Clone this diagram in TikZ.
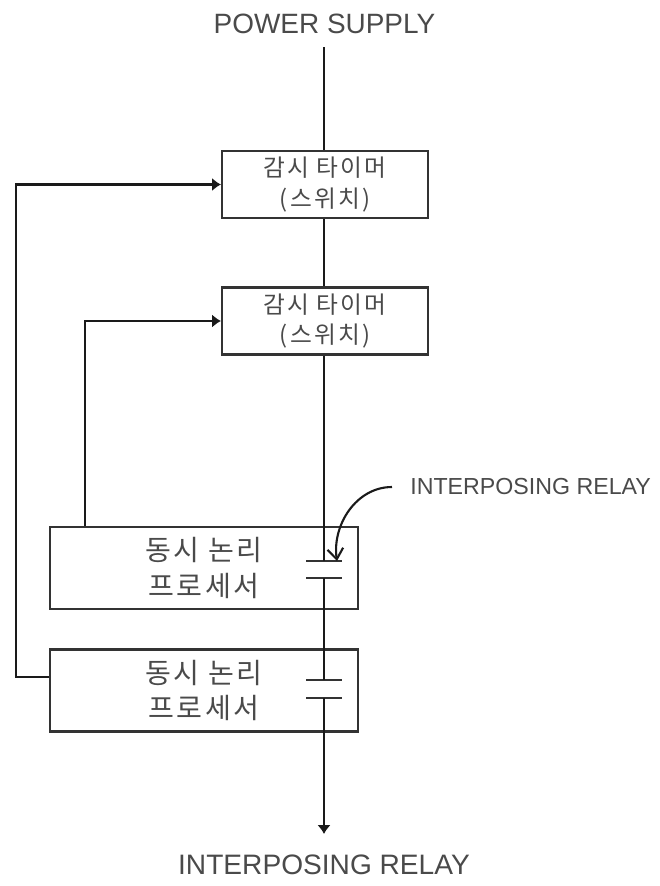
\documentclass[tikz,border=0pt]{standalone}
\usepackage{xcolor}
\usepackage{fontspec}
\setmainfont{Liberation Sans}
\newfontfamily\krfont[LetterSpace=9]{Noto Sans CJK KR}
\usetikzlibrary{arrows.meta, positioning, calc}
\definecolor{wireblack}{HTML}{1A1A1A}
\definecolor{boxgray}{HTML}{333333}
\definecolor{labelgray}{HTML}{4A4A4A}
\tikzset{
    wire/.style={line width=1.2pt, wireblack},
    feed/.style={wire, -{Latex[length=5pt, width=7.5pt]}},
    plate/.style={line width=1.1pt, boxgray},
    timerbox/.style={draw=boxgray, line width=1.2pt, minimum width=4.12cm, minimum height=1.34cm,
        align=center, text=labelgray, inner sep=0pt, font=\krfont\fontsize{13.5}{17.6}\selectfont},
    procbox/.style={draw=boxgray, line width=1.2pt, minimum width=6.16cm, minimum height=1.64cm,
        align=center, text=labelgray, inner sep=0pt, font=\krfont\fontsize{16}{20}\selectfont},
    caption/.style={text=labelgray, inner sep=0pt},
}
\begin{document}
\begin{tikzpicture}
    \useasboundingbox (0, 0) rectangle (13.2, -17.72);

    % supply and output labels
    \node[caption, font=\fontsize{15.9}{18}\selectfont] (supply) at (6.49, -0.48) {POWER SUPPLY};
    \node[caption, font=\fontsize{16}{18}\selectfont] (output) at (6.48, -17.3) {INTERPOSING RELAY};
    \node[caption, font=\fontsize{13.2}{16}\selectfont, anchor=west] (relay) at (8.2, -9.74) {INTERPOSING RELAY};

    % watchdog timers
    \node[timerbox] (timerA) at (6.5, -3.69) {감시 타이머\\(스위치)};
    \node[timerbox] (timerB) at (6.5, -6.42) {감시 타이머\\(스위치)};

    % processors
    \node[procbox] (procA) at (4.08, -11.36) {동시 논리\\프로세서};
    \node[procbox] (procB) at (4.08, -13.81) {동시 논리\\프로세서};

    % relay contacts
    \coordinate (topA) at (6.48, -11.22);
    \coordinate (botA) at (6.48, -11.56);
    \coordinate (topB) at (6.48, -13.6);
    \coordinate (botB) at (6.48, -13.96);
    \coordinate (start) at (6.48, -0.94);
    \coordinate (stop) at (6.48, -16.68);
    \foreach \c in {topA, botA, topB, botB}
        \draw[plate] ([xshift=-0.36cm]\c) -- ([xshift=0.36cm]\c);

    % main line
    \draw[wire] (start) -- (start |- timerA.north);
    \draw[wire] (start |- timerA.south) -- (start |- timerB.north);
    \draw[wire] (start |- timerB.south) -- (topA);
    \draw[wire] (botA) -- (topB);
    \draw[feed] (botB) -- (stop);

    % feedback lines
    \draw[feed] (procA.north -| 1.7, 0) -- (1.7, 0 |- timerB.west) -- (timerB.west);
    \draw[feed] (procB.west |- 0, -13.54) -- (0.32, -13.54) -- (0.32, 0 |- timerA.west) -- (timerA.west);

    % relay pointer
    \draw[wire, -{Straight Barb[length=6pt, width=9pt]}]
        ([xshift=-0.36cm]relay.west) to[out=180, in=98] ([xshift=0.26cm]topA);
\end{tikzpicture}
\end{document}
